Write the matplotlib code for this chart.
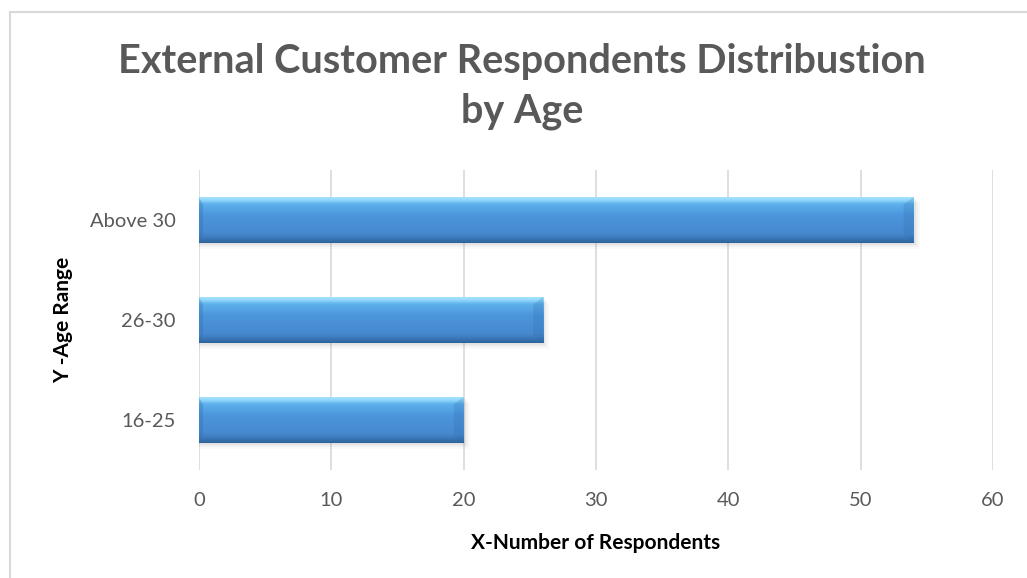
import matplotlib
matplotlib.use("Agg")
import matplotlib.pyplot as plt
import numpy as np
from matplotlib.colors import LinearSegmentedColormap
from matplotlib.patches import Rectangle, Polygon

categories = ["16-25", "26-30", "Above 30"]
values = [20, 26, 54]
xticks = [0, 10, 20, 30, 40, 50, 60]

title = "External Customer Respondents Distribustion\nby Age"
xlabel = "X-Number of Respondents"
ylabel = "Y -Age Range"

FONT = "Lato"

fig = plt.figure(figsize=(10.27, 5.78), dpi=100)
fig.patch.set_facecolor("white")
fig.add_artist(Rectangle((10/1027, -0.01), 1.1, 1 - 12/578 + 0.01, transform=fig.transFigure,
                         fill=False, edgecolor="#d9d9d9", linewidth=1.5))

ax = fig.add_axes([199/1027, (578-470)/578, (993-199)/1027, 300/578])
ypos = np.arange(len(categories))
h = 0.46

# shadows
for y, v in zip(ypos, values):
    for k, a in enumerate([0.10, 0.07, 0.04]):
        off = 0.02 + 0.02 * k
        ax.barh(y - off, v + 0.15 * (k + 1), height=h, left=0, color="#7f7f7f", alpha=a,
                linewidth=0, zorder=2)

cmap = LinearSegmentedColormap.from_list("bev", [
    (0.0, "#2c6299"), (0.06, "#3670ad"), (0.2, "#4689cf"), (0.6, "#4c95dc"),
    (0.85, "#5eb0ec"), (0.93, "#8fd6fb"), (1.0, "#a8e4fd")])
bars = ax.barh(ypos, values, height=h, color="#4a90d9", linewidth=0, zorder=3)
grad = np.linspace(0, 1, 256).reshape(-1, 1)
for b in bars:
    x0, y0 = b.get_x(), b.get_y()
    w, hh = b.get_width(), b.get_height()
    im = ax.imshow(grad, cmap=cmap, aspect="auto", origin="lower",
                   extent=[x0, x0 + w, y0, y0 + hh], zorder=4, interpolation="bicubic")
    im.set_clip_path(b)
    bw = 0.75
    bh = hh * 0.16
    ax.add_patch(Polygon([(x0 + w - bw, y0 + bh), (x0 + w, y0), (x0 + w, y0 + hh),
                          (x0 + w - bw, y0 + hh - bh)], closed=True,
                         color="#2f6aa6", alpha=0.22, linewidth=0, zorder=5))
    ax.add_patch(Polygon([(x0, y0), (x0 + 0.3, y0 + bh), (x0 + 0.3, y0 + hh - bh),
                          (x0, y0 + hh)], closed=True,
                         color="#2f6aa6", alpha=0.3, linewidth=0, zorder=5))

ax.set_xlim(0, 60)
ax.set_ylim(-0.5, 2.5)
ax.set_xticks(xticks)
ax.set_yticks(ypos)
ax.set_yticklabels(categories)
ax.grid(axis="x", color="#d9d9d9", linewidth=1.2, zorder=0)
ax.set_axisbelow(True)
for s in ax.spines.values():
    s.set_visible(False)
ax.tick_params(length=0, labelsize=14.5, labelcolor="#595959")
for lab in ax.get_xticklabels() + ax.get_yticklabels():
    lab.set_family(FONT)
ax.tick_params(axis="x", pad=16)
ax.tick_params(axis="y", pad=17)

ax.set_xlabel(xlabel, fontsize=15, fontweight="bold", family=FONT, labelpad=17)
ax.set_ylabel(ylabel, fontsize=15, fontweight="bold", family=FONT, labelpad=12)

fig.text(0.508, 0.85, title, ha="center", va="center", fontsize=28.5, fontweight="bold",
         color="#595959", family=FONT, linespacing=1.4)

fig.savefig("out.png", dpi=100)
